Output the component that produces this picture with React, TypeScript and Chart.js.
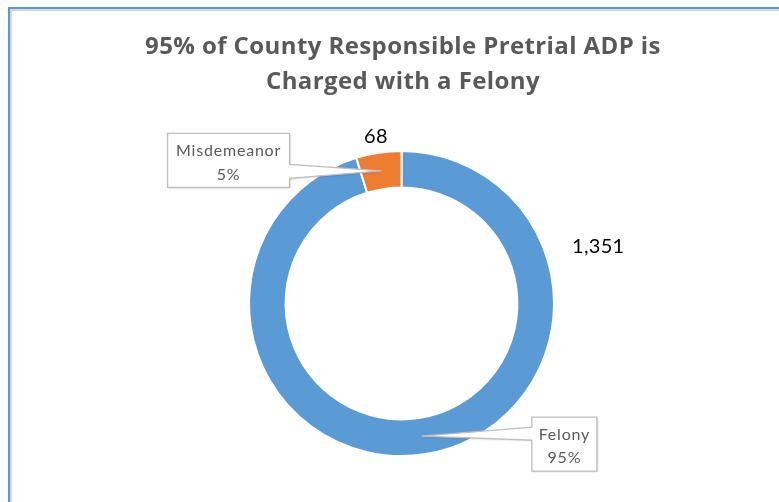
import React, { useEffect, useRef } from "react";
import { Chart, registerables } from "chart.js";

Chart.register(...registerables);

const categories = ["Felony", "Misdemeanor"];
const values = [1351, 68];
const percentLabels = ["95%", "5%"];
const valueLabels = ["1,351", "68"];
const colors = ["#5B9BD5", "#ED7D31"];
const titleLines = ["95% of County Responsible Pretrial ADP is", "Charged with a Felony"];

const FONT = "Lato, 'Open Sans', 'Liberation Sans', sans-serif";
const TITLE_FONT = "'Open Sans', Lato, sans-serif";

function callout(ctx: CanvasRenderingContext2D, bx: number, by: number, bw: number, bh: number, tip: { x: number; y: number }, side: "left" | "right", p1: number, p2: number, lines: string[]) {
  ctx.save();
  ctx.beginPath();
  if (side === "right") {
    ctx.moveTo(bx, by);
    ctx.lineTo(bx + bw, by);
    ctx.lineTo(bx + bw, by + p1);
    ctx.lineTo(tip.x, tip.y);
    ctx.lineTo(bx + bw, by + p2);
    ctx.lineTo(bx + bw, by + bh);
    ctx.lineTo(bx, by + bh);
    ctx.closePath();
  } else {
    ctx.moveTo(bx, by);
    ctx.lineTo(bx + bw, by);
    ctx.lineTo(bx + bw, by + bh);
    ctx.lineTo(bx, by + bh);
    ctx.lineTo(bx, by + p2);
    ctx.lineTo(tip.x, tip.y);
    ctx.lineTo(bx, by + p1);
    ctx.closePath();
  }
  ctx.shadowColor = "rgba(0,0,0,0.18)";
  ctx.shadowOffsetX = 1;
  ctx.shadowOffsetY = 1;
  ctx.shadowBlur = 2;
  ctx.fillStyle = "#ffffff";
  ctx.fill();
  ctx.shadowColor = "transparent";
  ctx.strokeStyle = "#BFBFBF";
  ctx.lineWidth = 1.3;
  ctx.stroke();
  ctx.fillStyle = "#595959";
  ctx.font = `16px ${FONT}`;
  (ctx as any).letterSpacing = "0.8px";
  ctx.textAlign = "center";
  ctx.textBaseline = "middle";
  const cx = bx + bw / 2;
  ctx.fillText(lines[0], cx, by + bh * 0.33);
  ctx.fillText(lines[1], cx, by + bh * 0.76);
  ctx.restore();
}

const decorPlugin = {
  id: "decor",
  beforeDraw(chart: any) {
    const ctx = chart.ctx as CanvasRenderingContext2D;
    ctx.save();
    ctx.fillStyle = "#ffffff";
    ctx.fillRect(0, 0, chart.width, chart.height);
    // frame
    ctx.fillStyle = "#5B9BD5";
    ctx.fillRect(8, 7, chart.width - 8, 2);
    ctx.fillRect(8, 7, 2, chart.height - 7);
    ctx.fillStyle = "#D4D8DD";
    ctx.fillRect(10, 9, chart.width - 10, 2);
    ctx.fillRect(10, 9, 2, chart.height - 9);
    // title
    ctx.fillStyle = "#595959";
    ctx.font = `bold 24px ${TITLE_FONT}`;
    (ctx as any).letterSpacing = "0.4px";
    ctx.textAlign = "center";
    ctx.textBaseline = "middle";
    ctx.fillText(titleLines[0], 403, 47);
    ctx.fillText(titleLines[1], 403, 82);
    ctx.restore();
  },
  afterDraw(chart: any) {
    const ctx = chart.ctx as CanvasRenderingContext2D;
    const arcs = chart.getDatasetMeta(0).data;
    const a0 = arcs[0];
    const cx = a0.x;
    const cy = a0.y;
    const R = a0.outerRadius;
    ctx.save();
    ctx.fillStyle = "#000000";
    ctx.font = `20px ${FONT}`;
    (ctx as any).letterSpacing = "0.3px";
    ctx.textAlign = "center";
    ctx.textBaseline = "middle";
    // value labels
    const a1 = arcs[1];
    const mid1 = (a1.startAngle + a1.endAngle) / 2;
    ctx.fillText(valueLabels[1], cx + Math.cos(mid1) * (R + 18), cy + Math.sin(mid1) * (R + 18) + 2);
    ctx.fillText(valueLabels[0], cx + R * 1.29, cy - R * 0.375);
    ctx.restore();
    // callouts
    const tip1 = a1.getCenterPoint();
    callout(ctx, cx - R * 1.534, cy - R * 1.115, 122, 54, tip1, "right", 31, 45, [categories[1], percentLabels[1]]);
    const tip0 = a0.getCenterPoint();
    callout(ctx, cx + R * 0.855, cy + R * 0.745, 65, 54, tip0, "left", 10, 23, [categories[0], percentLabels[0]]);
  },
};

export default function App() {
  const ref = useRef<HTMLCanvasElement>(null);
  useEffect(() => {
    if (!ref.current) return;
    const chart = new Chart(ref.current, {
      type: "doughnut",
      data: {
        labels: categories,
        datasets: [
          {
            data: values,
            backgroundColor: colors,
            borderColor: "#ffffff",
            borderWidth: 2,
          },
        ],
      },
      options: {
        animation: false,
        responsive: false,
        cutout: "76%",
        rotation: 0,
        layout: { padding: { top: 150, bottom: 45, left: 112, right: 88 } },
        plugins: {
          legend: { display: false },
          title: { display: false },
          tooltip: { enabled: false },
        },
      },
      plugins: [decorPlugin],
    });
    return () => chart.destroy();
  }, []);
  return (
    <div style={{ position: "fixed", left: 0, top: 0, width: 779, height: 502 }}>
      <canvas ref={ref} width={779} height={502} style={{ width: 779, height: 502, display: "block" }} />
    </div>
  );
}
